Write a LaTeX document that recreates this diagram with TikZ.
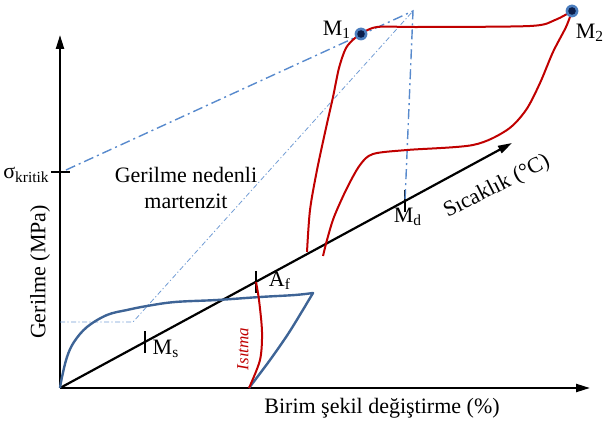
\documentclass[tikz,border=0pt]{standalone}
\usepackage{fontspec}
\setmainfont{Liberation Serif}
\usetikzlibrary{
	arrows.meta,
	calc,
	positioning
}
\definecolor{CurveRed}{RGB}{192,0,0}
\definecolor{CurveBlue}{RGB}{62,100,150}
\definecolor{GuideBlue}{RGB}{88,138,205}
\definecolor{DotNavy}{RGB}{12,30,75}
\definecolor{DotRing}{RGB}{75,125,190}

\begin{document}
\begin{tikzpicture}[x=0.5pt, y=-0.5pt, font=\fontsize{11}{13}\selectfont,
		axis/.style={line width=1.1pt, -{Triangle[length=7pt,width=4pt]}},
		tickmark/.style={line width=1.1pt},
		guide/.style={GuideBlue, line width=0.7pt, dash pattern=on 5pt off 2pt on 1pt off 2pt},
		guidethin/.style={GuideBlue!85, line width=0.4pt, dash pattern=on 2.5pt off 1.2pt on 0.6pt off 1.2pt},
		redcurve/.style={CurveRed, line width=1pt, line join=round},
		bluecurve/.style={CurveBlue, line width=1.2pt, line join=round}]
		\useasboundingbox (0,0) rectangle (603,421);
		% eksenler
		\coordinate (O) at (60,388);
		\coordinate (Ytop) at (60,35);
		\coordinate (Xend) at (590,388);
		\coordinate (Tend) at (512,143);
		\draw[axis] (O) -- (Ytop);
		\draw[axis] (O) -- (Xend);
		\draw[axis] (O) -- (Tend);
		% sicaklik ekseni uzerindeki noktalar
		\coordinate (Ms) at (145,342);
		\coordinate (Af) at (256,282);
		\coordinate (Md) at (405,201);
		\coordinate (Sk) at (60,172);
		\foreach \p in {Ms,Af,Md}
			\draw[tickmark] ($(\p)+(0,-11)$) -- ($(\p)+(0,11)$);
		\draw[tickmark] ($(Sk)+(-9,0)$) -- ($(Sk)+(10,0)$);
		% kilavuz cizgiler
		\coordinate (Peak) at (413,11);
		\coordinate (Lo) at (60,322);
		\coordinate (Knee) at (133,322);
		\draw[guide] ($(Sk)+(6,-2)$) -- (Peak) -- (Md);
		\draw[guidethin] (Lo) -- (Knee) -- (Peak);
		% gerilme - birim sekil degistirme egrisi
		\coordinate (Bend) at (313,293);
		\coordinate (Bzero) at (249,388);
		\draw[bluecurve] plot[smooth, tension=0.6] coordinates {(O) (62,377) (67,357) (74,342) (87,327) (107,315) (127,310) (147,306) (175,302) (217,300) (260,297) (295,295) (Bend)}
			-- plot[smooth] coordinates {(Bend) (290,331) (270,360) (Bzero)};
		% isitma egrisi
		\draw[redcurve] plot[smooth] coordinates {(Af) (259,300) (262,332) (260,360) (Bzero)};
		% M1 - M2 cevrimi
		\coordinate (M1) at (361,34);
		\coordinate (M2) at (572,11);
		\coordinate (Rstart) at (307,252);
		\coordinate (Rend) at (323,256);
		\draw[redcurve] plot[smooth, tension=0.5] coordinates {(Rstart) (310,210) (317,170) (326,128) (333,97) (339,68) (346,48) (355,38) (M1)}
			-- plot[smooth, tension=0.5] coordinates {(M1) (377,27) (420,27) (530,26) (555,20) (M2)}
			-- plot[smooth, tension=0.5] coordinates {(M2) (566,27) (553,52) (540,83) (526,110) (507,130) (473,145) (407,150) (373,154) (360,165) (347,188) (334,217) (327,240) (Rend)};
		\foreach \p in {M1,M2} {
			\fill[DotRing] (\p) circle (3.2pt);
			\fill[DotNavy] (\p) circle (1.9pt);
		}
		% etiketler
		\node (m1lab) at (337,30) {M\textsubscript{1}};
		\node (m2lab) at (590,33) {M\textsubscript{2}};
		\node (mslab) at (166,349) {M\textsubscript{s}};
		\node (aflab) at (280,281) {A\textsubscript{f}};
		\node (mdlab) at (408,217) {M\textsubscript{d}};
		\node[anchor=east, inner sep=1pt] (sklab) at (52,175) {σ\textsubscript{kritik}};
		\node[align=center] (zone) at (186,188) {Gerilme nedenli\\martenzit};
		\node[rotate=27, inner sep=0pt] (tlab) at (497,187) {Sıcaklık (°C)};
		\node[rotate=90] (ylab) at (40,272) {Gerilme (MPa)};
		\node (xlab) at (382,408) {Birim şekil değiştirme (\%)};
		\node[rotate=90, inner sep=0pt, CurveRed, font=\fontsize{8.5}{10}\selectfont\itshape] (heat) at (243,349) {Isıtma};
	\end{tikzpicture}
\end{document}
